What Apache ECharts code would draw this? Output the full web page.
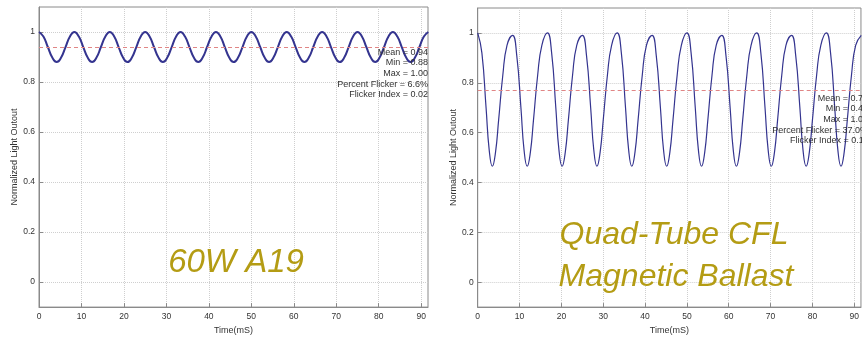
<!DOCTYPE html>
<html>
<head>
<meta charset="utf-8">
<script src="https://cdn.jsdelivr.net/npm/echarts@6/dist/echarts.min.js"></script>
<style>
html, body { margin: 0; padding: 0; background: #fff; }
#main { width: 862px; height: 340px; }
</style>
</head>
<body>
<div id="main"></div>
<script>
var chart = echarts.init(document.getElementById('main'));

var xTicks = [0, 10, 20, 30, 40, 50, 60, 70, 80, 90];
var yTicks = [0, 0.2, 0.4, 0.6, 0.8, 1];

// 60W A19 incandescent
var a19Time = [
    0, 1.04, 2.08, 3.13, 4.17, 5.21, 6.25, 7.29,
    8.33, 9.38, 10.42, 11.46, 12.5, 13.54, 14.58, 15.63,
    16.67, 17.71, 18.75, 19.79, 20.83, 21.88, 22.92, 23.96,
    25, 26.04, 27.08, 28.13, 29.17, 30.21, 31.25, 32.29,
    33.33, 34.38, 35.42, 36.46, 37.5, 38.54, 39.58, 40.63,
    41.67, 42.71, 43.75, 44.79, 45.83, 46.88, 47.92, 48.96,
    50, 51.04, 52.08, 53.13, 54.17, 55.21, 56.25, 57.29,
    58.33, 59.38, 60.42, 61.46, 62.5, 63.54, 64.58, 65.63,
    66.67, 67.71, 68.75, 69.79, 70.83, 71.88, 72.92, 73.96,
    75, 76.04, 77.08, 78.13, 79.17, 80.21, 81.25, 82.29,
    83.33, 84.38, 85.42, 86.46, 87.5, 88.54, 89.58, 90.63,
    91.67
];
var a19Light = [
    1.00, 0.982, 0.94, 0.898, 0.88, 0.898, 0.94, 0.982,
    1.00, 0.982, 0.94, 0.898, 0.88, 0.898, 0.94, 0.982,
    1.00, 0.982, 0.94, 0.898, 0.88, 0.898, 0.94, 0.982,
    1.00, 0.982, 0.94, 0.898, 0.88, 0.898, 0.94, 0.982,
    1.00, 0.982, 0.94, 0.898, 0.88, 0.898, 0.94, 0.982,
    1.00, 0.982, 0.94, 0.898, 0.88, 0.898, 0.94, 0.982,
    1.00, 0.982, 0.94, 0.898, 0.88, 0.898, 0.94, 0.982,
    1.00, 0.982, 0.94, 0.898, 0.88, 0.898, 0.94, 0.982,
    1.00, 0.982, 0.94, 0.898, 0.88, 0.898, 0.94, 0.982,
    1.00, 0.982, 0.94, 0.898, 0.88, 0.898, 0.94, 0.982,
    1.00, 0.982, 0.94, 0.898, 0.88, 0.898, 0.94, 0.982,
    1.00
];
var a19Mean = 0.94;
var a19Stats = ['Mean = 0.94', 'Min = 0.88', 'Max = 1.00', 'Percent Flicker = 6.6%', 'Flicker Index = 0.02'];

// quad-tube CFL, magnetic ballast
var cflTime = [
    0, 1, 2, 2.75, 3.5, 4.25, 5, 6, 7,
    8.33, 9.33, 10.33, 11.08, 11.83, 12.58, 13.33, 14.33, 15.33,
    16.67, 17.67, 18.67, 19.42, 20.17, 20.92, 21.67, 22.67, 23.67,
    25, 26, 27, 27.75, 28.5, 29.25, 30, 31, 32,
    33.33, 34.33, 35.33, 36.08, 36.83, 37.58, 38.33, 39.33, 40.33,
    41.67, 42.67, 43.67, 44.42, 45.17, 45.92, 46.67, 47.67, 48.67,
    50, 51, 52, 52.75, 53.5, 54.25, 55, 56, 57,
    58.33, 59.33, 60.33, 61.08, 61.83, 62.58, 63.33, 64.33, 65.33,
    66.67, 67.67, 68.67, 69.42, 70.17, 70.92, 71.67, 72.67, 73.67,
    75, 76, 77, 77.75, 78.5, 79.25, 80, 81, 82,
    83.33, 84.33, 85.33, 86.08, 86.83, 87.58, 88.33, 89.33, 90.33,
    91.67
];
var cflLight = [
    1.00, 0.92, 0.70, 0.53, 0.465, 0.52, 0.65, 0.83, 0.95,
    0.99, 0.91, 0.70, 0.53, 0.465, 0.52, 0.65, 0.83, 0.95,
    1.00, 0.92, 0.70, 0.53, 0.465, 0.52, 0.65, 0.83, 0.95,
    0.99, 0.91, 0.70, 0.53, 0.465, 0.52, 0.65, 0.83, 0.95,
    1.00, 0.92, 0.70, 0.53, 0.465, 0.52, 0.65, 0.83, 0.95,
    0.99, 0.91, 0.70, 0.53, 0.465, 0.52, 0.65, 0.83, 0.95,
    1.00, 0.92, 0.70, 0.53, 0.465, 0.52, 0.65, 0.83, 0.95,
    0.99, 0.91, 0.70, 0.53, 0.465, 0.52, 0.65, 0.83, 0.95,
    1.00, 0.92, 0.70, 0.53, 0.465, 0.52, 0.65, 0.83, 0.95,
    0.99, 0.91, 0.70, 0.53, 0.465, 0.52, 0.65, 0.83, 0.95,
    1.00, 0.92, 0.70, 0.53, 0.465, 0.52, 0.65, 0.83, 0.95,
    0.99
];
var cflMean = 0.765;
var cflStats = ['Mean = 0.76', 'Min = 0.46', 'Max = 1.00', 'Percent Flicker = 37.0%', 'Flicker Index = 0.11'];

var font = 'Liberation Sans, Arial, sans-serif';
var lineBlue = '#34348f';
var meanRed = '#e08585';
var gold = '#b49c14';
var axisGrey = '#8a8a8a';

function pairs(t, v) {
    return t.map(function (x, i) { return [x, v[i]]; });
}

function xAxisFor(idx) {
    return {
        type: 'value', gridIndex: idx, min: 0, max: 91.6,
        name: 'Time(mS)', nameLocation: 'middle', nameGap: 14,
        nameTextStyle: { fontSize: 9, color: '#333', fontFamily: font },
        axisLine: { show: true, onZero: false, lineStyle: { color: axisGrey } },
        axisTick: { show: true, inside: true, length: 4, customValues: xTicks, lineStyle: { color: axisGrey } },
        axisLabel: { customValues: xTicks, fontSize: 8.5, color: '#333', margin: 5, fontFamily: font },
        splitLine: { show: true, lineStyle: { color: '#cfcfcf', type: [1, 1] } }
    };
}

function yAxisFor(idx) {
    return {
        type: 'value', gridIndex: idx, min: -0.1, max: 1.1,
        name: 'Normalized Light Outout', nameLocation: 'middle', nameGap: 20,
        nameTextStyle: { fontSize: 9, color: '#333', fontFamily: font },
        axisLine: { show: true, onZero: false, lineStyle: { color: axisGrey } },
        axisTick: { show: true, inside: true, length: 4, customValues: yTicks, lineStyle: { color: axisGrey } },
        axisLabel: { customValues: yTicks, fontSize: 8.5, color: '#333', margin: 4, fontFamily: font },
        splitLine: { show: true, lineStyle: { color: '#cfcfcf', type: [1, 1] } }
    };
}

function meanLine(v) {
    return {
        silent: true, symbol: 'none', animation: false,
        label: { show: false },
        lineStyle: { color: meanRed, type: [4, 3], width: 1 },
        data: [{ yAxis: v }]
    };
}

var option = {
    backgroundColor: '#fff',
    animation: false,
    grid: [
        { left: 39, top: 7, width: 389, height: 305.7, show: true, borderColor: axisGrey, borderWidth: 1 },
        { left: 477.7, top: 8, width: 389, height: 307, show: true, borderColor: axisGrey, borderWidth: 1 }
    ],
    xAxis: [xAxisFor(0), xAxisFor(1)],
    yAxis: [yAxisFor(0), yAxisFor(1)],
    series: [{
        type: 'line', xAxisIndex: 0, yAxisIndex: 0,
        data: pairs(a19Time, a19Light),
        smooth: 0.5, showSymbol: false,
        lineStyle: { color: lineBlue, width: 2 },
        markLine: meanLine(a19Mean),
        z: 3
    }, {
        type: 'line', xAxisIndex: 1, yAxisIndex: 1,
        data: pairs(cflTime, cflLight),
        smooth: 0.5, showSymbol: false,
        lineStyle: { color: lineBlue, width: 1.2 },
        markLine: meanLine(cflMean),
        z: 3
    }],
    graphic: [{
        type: 'text', z: 10,
        style: { text: a19Stats.join('\n'), x: 428, y: 47, align: 'right', verticalAlign: 'top',
            fontSize: 9, lineHeight: 10.6, fontFamily: font, fill: '#333' }
    }, {
        type: 'text', z: 10,
        style: { text: cflStats.join('\n'), x: 868, y: 93, align: 'right', verticalAlign: 'top',
            fontSize: 9, lineHeight: 10.6, fontFamily: font, fill: '#333' }
    }, {
        type: 'text', z: 10,
        style: { text: '60W A19', x: 236, y: 263, align: 'center', verticalAlign: 'middle',
            fontSize: 33, fontStyle: 'italic', fontFamily: font, fill: gold }
    }, {
        type: 'text', z: 10,
        style: { text: 'Quad-Tube CFL', x: 674, y: 235, align: 'center', verticalAlign: 'middle',
            fontSize: 32, fontStyle: 'italic', fontFamily: font, fill: gold }
    }, {
        type: 'text', z: 10,
        style: { text: 'Magnetic Ballast', x: 676, y: 277, align: 'center', verticalAlign: 'middle',
            fontSize: 32, fontStyle: 'italic', fontFamily: font, fill: gold }
    }]
};

chart.setOption(option);
</script>
</body>
</html>
